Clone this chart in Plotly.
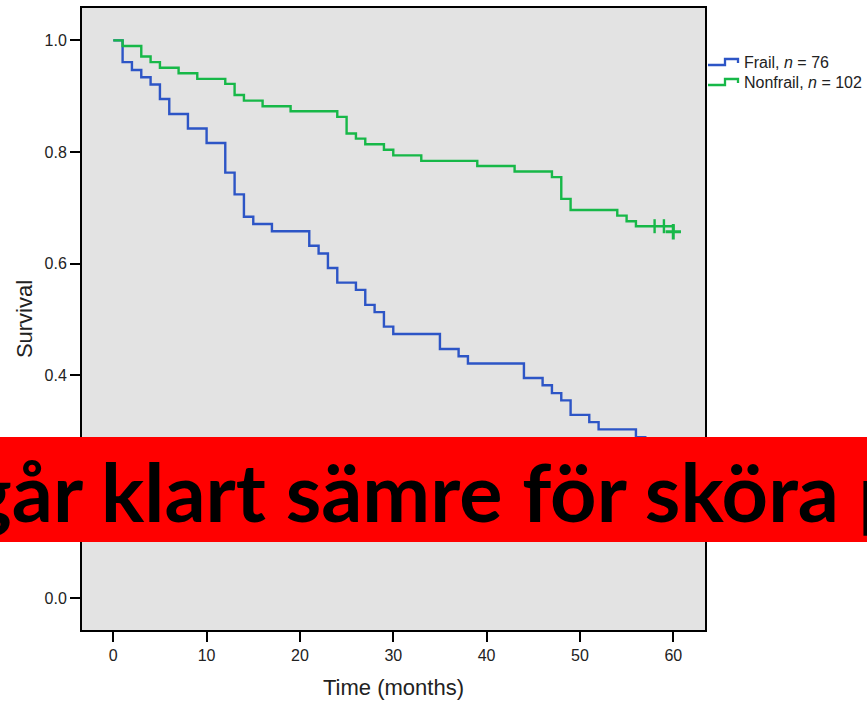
import plotly.graph_objects as go

# ---- data ----
frail_t = [0, 1, 2, 3, 4, 5, 6, 8, 10, 12, 13, 14, 15, 17, 21, 22, 23, 24, 26, 27, 28, 29, 30,
           35, 37, 38, 44, 46, 47, 48, 49, 51, 52, 56, 57, 59, 60]
frail_s = [1.0, 0.961, 0.947, 0.934, 0.921, 0.895, 0.868, 0.842, 0.816, 0.763, 0.724, 0.684, 0.671,
           0.658, 0.632, 0.618, 0.592, 0.566, 0.553, 0.526, 0.513, 0.487, 0.474, 0.447, 0.434, 0.421,
           0.395, 0.382, 0.368, 0.355, 0.329, 0.316, 0.303, 0.289, 0.276, 0.263, 0.263]

nonfrail_t = [0, 1, 3, 4, 5, 7, 9, 12, 13, 14, 16, 19, 24, 25, 26, 27, 29, 30, 33, 39, 43, 47, 48,
              49, 54, 55, 56, 60]
nonfrail_s = [1.0, 0.990, 0.971, 0.961, 0.951, 0.941, 0.931, 0.922, 0.902, 0.892, 0.882, 0.873,
              0.863, 0.833, 0.824, 0.814, 0.804, 0.794, 0.784, 0.775, 0.765, 0.755, 0.716, 0.696,
              0.686, 0.676, 0.667, 0.657]
nonfrail_cens_t = [58, 59]
nonfrail_cens_s = [0.667, 0.667]
nonfrail_end_t = [60]
nonfrail_end_s = [0.657]

x_ticks = [0, 10, 20, 30, 40, 50, 60]
y_ticks = [0.0, 0.2, 0.4, 0.6, 0.8, 1.0]

legend_names = ["Frail, <i>n</i> = 76", "Nonfrail, <i>n</i> = 102"]
banner_text = "går klart sämre för sköra p"

BLUE = "#2d55c6"
GREEN = "#17b848"
colors = [BLUE, GREEN]

# figure geometry (pixels) used to place decorations in paper coordinates
W, H = 867, 701
L, R, T, B = 82, 162, 8, 71
PW, PH = W - L - R, H - T - B


def px(x):
    return (x - L) / PW


def py(y):
    return (H - B - y) / PH


fig = go.Figure()
fig.add_trace(go.Scatter(x=frail_t, y=frail_s, mode="lines", line=dict(color=BLUE, width=2.4, shape="hv"),
                         name="Frail", showlegend=False))
fig.add_trace(go.Scatter(x=nonfrail_t, y=nonfrail_s, mode="lines", line=dict(color=GREEN, width=2.4, shape="hv"),
                         name="Nonfrail", showlegend=False))
fig.add_trace(go.Scatter(x=nonfrail_cens_t, y=nonfrail_cens_s, mode="markers", showlegend=False,
                         marker=dict(symbol="line-ns-open", size=10, color=GREEN,
                                     line=dict(color=GREEN, width=2.4))))
fig.add_trace(go.Scatter(x=nonfrail_end_t, y=nonfrail_end_s, mode="markers", showlegend=False,
                         marker=dict(symbol="cross-thin-open", size=11, color=GREEN,
                                     line=dict(color=GREEN, width=3))))

axis_font = dict(family="Liberation Sans, Arial, sans-serif", size=16, color="#222222")
title_font = dict(family="Liberation Sans, Arial, sans-serif", size=22, color="#222222")

# manual legend: step-shaped glyphs plus text
shapes = []
annotations = []
for i, (name, col) in enumerate(zip(legend_names, colors)):
    yc = 62 + 20 * i
    path = (f"M {px(708)},{py(yc + 3)} L {px(725)},{py(yc + 3)} L {px(725)},{py(yc - 3)} "
            f"L {px(738)},{py(yc - 3)} L {px(738)},{py(yc + 1)}")
    shapes.append(dict(type="path", xref="paper", yref="paper", path=path,
                       line=dict(color=col, width=2.3)))
    annotations.append(dict(text=name, xref="paper", yref="paper", x=px(742), y=py(yc),
                            xanchor="left", yanchor="middle", showarrow=False,
                            font=dict(family="Liberation Sans, Arial, sans-serif", size=16,
                                      color="#222222")))

# red banner on top
shapes.append(dict(type="rect", xref="paper", yref="paper", x0=-0.5, x1=1.6, y0=py(542), y1=py(437),
                   fillcolor="#ff0000", line=dict(width=0), layer="above"))
annotations.append(dict(text=f"<b>{banner_text}</b>", xref="paper", yref="paper", x=px(437), y=py(490),
                        xanchor="center", yanchor="middle", showarrow=False,
                        font=dict(family="Lato, sans-serif", size=81, color="black")))

fig.update_layout(
    width=W, height=H,
    margin=dict(l=L, r=R, t=T, b=B, autoexpand=False),
    paper_bgcolor="white",
    plot_bgcolor="#e3e3e3",
    showlegend=False,
    xaxis=dict(range=[-3.35, 63.4], tickvals=x_ticks, ticktext=[str(v) for v in x_ticks],
               showgrid=False, zeroline=False, showline=True, linecolor="black", linewidth=2,
               mirror=True, ticks="outside", ticklen=10, tickwidth=2, tickcolor="black",
               tickfont=axis_font, title=dict(text="Time (months)", font=title_font, standoff=16)),
    yaxis=dict(range=[-0.0565, 1.058], tickvals=y_ticks, ticktext=[f"{v:.1f}" for v in y_ticks],
               showgrid=False, zeroline=False, showline=True, linecolor="black", linewidth=2,
               mirror=True, ticks="outside", ticklen=10, tickwidth=2, tickcolor="black",
               tickfont=axis_font, title=dict(text="Survival", font=title_font, standoff=6)),
    shapes=shapes,
    annotations=annotations,
)

fig.write_html("out.html")
